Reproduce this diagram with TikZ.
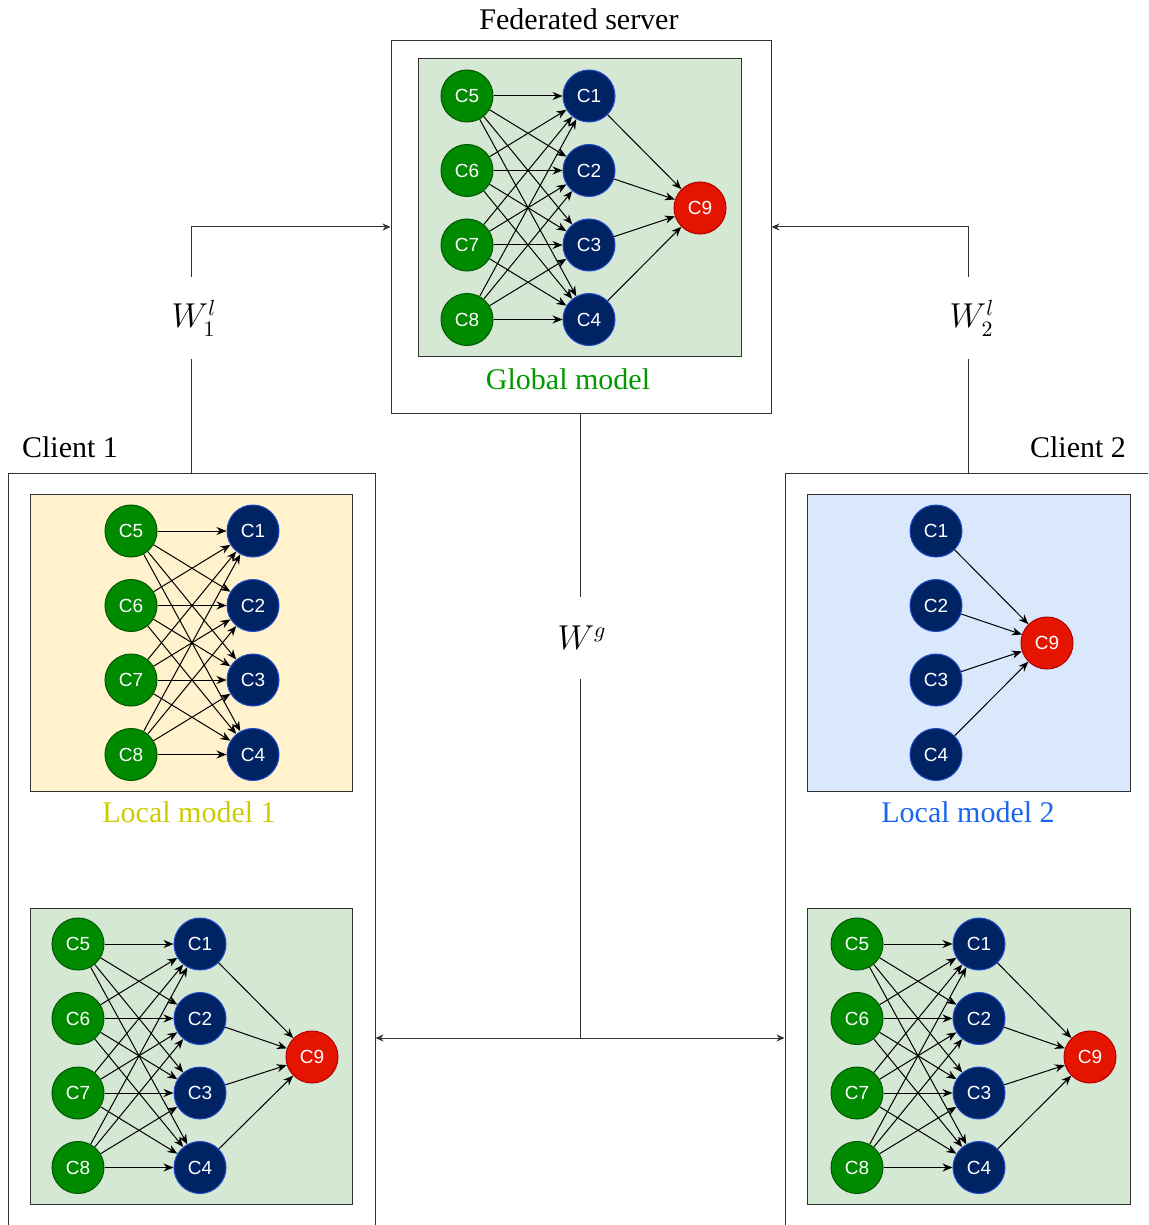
\documentclass[tikz,border=0pt]{standalone}
\usepackage{fontspec}
\setmainfont{Liberation Serif}
\setsansfont{Liberation Sans}
\usetikzlibrary{arrows.meta,fit}
\definecolor{gfill}{HTML}{008A00}
\definecolor{gdraw}{HTML}{005700}
\definecolor{bfill}{HTML}{002364}
\definecolor{bdraw}{HTML}{1F48C8}
\definecolor{rfill}{HTML}{E51400}
\definecolor{rdraw}{HTML}{B20000}
\definecolor{pgreen}{HTML}{D5E8D4}
\definecolor{pyellow}{HTML}{FFF2CC}
\definecolor{pblue}{HTML}{DAE8FC}
\definecolor{tgreen}{HTML}{009900}
\definecolor{tyellow}{HTML}{CCCC00}
\definecolor{tblue}{HTML}{1A66F0}
\definecolor{boxline}{HTML}{333333}
\tikzset{
  neuron/.style={circle, minimum size=26pt, inner sep=0pt, line width=0.5pt,
    text=white, font=\fontsize{9.5}{11}\sffamily},
  gn/.style={neuron, fill=gfill, draw=gdraw},
  bn/.style={neuron, fill=bfill, draw=bdraw},
  rn/.style={neuron, fill=rfill, draw=rdraw},
  edge/.style={line width=0.5pt, -{Stealth[length=5pt,width=4pt]}},
  flow/.style={line width=0.5pt, draw=boxline},
  flowarrow/.style={flow, -{Stealth[length=4pt,width=3.5pt]}},
  panel/.style={draw=boxline, line width=0.5pt, inner sep=0pt},
  outerbox/.style={draw=boxline, line width=0.5pt, inner sep=0pt},
  caption/.style={font=\fontsize{15}{18}\selectfont, inner sep=1pt},
  wlabel/.style={font=\fontsize{16}{18}\selectfont, inner sep=0pt, minimum height=41pt},
}
\newcommand\inlayer[3]{%
  \foreach \i/\n in {0/5,1/6,2/7,3/8}
    \node[gn] (#1c\n) at (#2, {#3+74.5*\i}) {C\n};}
\newcommand\hidlayer[3]{%
  \foreach \i/\n in {0/1,1/2,2/3,3/4}
    \node[bn] (#1c\n) at (#2, {#3+74.5*\i}) {C\n};}
\newcommand\outnode[3]{\node[rn] (#1c9) at (#2,#3) {C9};}
\newcommand\linkall[1]{%
  \foreach \a in {5,...,8}
    \foreach \b in {1,...,4}
      \draw[edge] (#1c\a) -- (#1c\b);}
\newcommand\linkout[1]{%
  \foreach \b in {1,...,4}
    \draw[edge] (#1c\b) -- (#1c9);}
\begin{document}
\begin{tikzpicture}[x=0.5pt, y=-0.5pt]
\useasboundingbox (0,0) rectangle (1148,1225);
\clip (0,0) rectangle (1148,1225);

% outer boxes
\node[outerbox, fit={(391,41) (771,413)}] (server) {};
\node[outerbox, fit={(8,473) (375,1260)}] (client1) {};
\node[outerbox, fit={(785,473) (1151,1260)}] (client2) {};

% panels
\node[panel, fill=pgreen, fit={(418,59) (741,356)}] (gpanel) {};
\node[panel, fill=pyellow, fit={(30,494) (352,791)}] (l1panel) {};
\node[panel, fill=pgreen, fit={(30,908) (352,1204)}] (b1panel) {};
\node[panel, fill=pblue, fit={(807,494) (1130,791)}] (l2panel) {};
\node[panel, fill=pgreen, fit={(807,908) (1130,1204)}] (b2panel) {};

% captions
\node[caption] (tserver) at (579,19) {Federated server};
\node[caption, text=tgreen] (tglobal) at (568,379) {Global model};
\node[caption] (tc1) at (70,447) {Client 1};
\node[caption] (tc2) at (1078,447) {Client 2};
\node[caption, text=tyellow] (tl1) at (189,812) {Local model 1};
\node[caption, text=tblue] (tl2) at (968,812) {Local model 2};

% global model
\inlayer{g}{467}{96}
\hidlayer{g}{589}{96}
\outnode{g}{700}{208}
\linkall{g}
\linkout{g}

% local model 1
\inlayer{a}{131}{531}
\hidlayer{a}{253}{531}
\linkall{a}

% bottom-left model
\inlayer{p}{78}{944}
\hidlayer{p}{200}{944}
\outnode{p}{312}{1057}
\linkall{p}
\linkout{p}

% local model 2
\hidlayer{b}{936}{531}
\outnode{b}{1047}{643}
\linkout{b}

% bottom-right model
\inlayer{q}{857}{944}
\hidlayer{q}{979}{944}
\outnode{q}{1090}{1057}
\linkall{q}
\linkout{q}

% weight labels
\node[wlabel] (w1) at (194,318) {$W_1^l$};
\node[wlabel] (w2) at (972,318) {$W_2^l$};
\node[wlabel] (wg) at (582,638) {$W^g$};

% uploads
\draw[flow] (client1.north) -- (client1.north |- w1.south);
\draw[flowarrow] (client1.north |- w1.north) |- (server.west);
\draw[flow] (client2.north) -- (client2.north |- w2.south);
\draw[flowarrow] (client2.north |- w2.north) |- (server.east);

% broadcast
\coordinate (hub) at (580,1038);
\draw[flow] (hub |- server.south) -- (hub |- wg.north);
\draw[flow] (hub |- wg.south) -- (hub);
\draw[flowarrow] (hub) -- (client1.east |- hub);
\draw[flowarrow] (hub) -- (client2.west |- hub);
\end{tikzpicture}
\end{document}
